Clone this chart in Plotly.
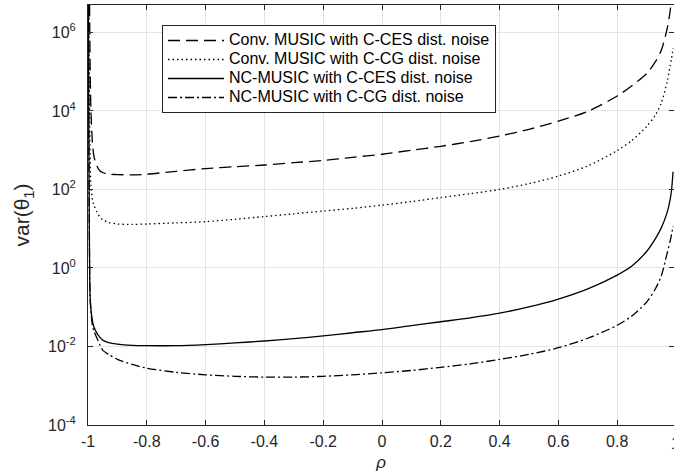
import plotly.graph_objects as go

# correlation coefficient rho (grid is denser near the endpoints)
rho = [-0.999, -0.997, -0.995, -0.993, -0.99, -0.985, -0.98, -0.97, -0.96, -0.95,
       -0.93, -0.9, -0.85, -0.8, -0.7, -0.6, -0.5, -0.4, -0.3, -0.2, -0.1, 0.0,
       0.1, 0.2, 0.3, 0.4, 0.5, 0.6, 0.7, 0.8, 0.85, 0.9, 0.93, 0.95, 0.97, 0.98,
       0.985, 0.99]

# var(theta_1) for each estimator / noise model
conv_music_ces = [1e9, 1e8, 1e7, 2.0e5, 1.0e4, 1.6e3, 7.1e2, 4.0e2, 3.0e2, 2.7e2,
                  2.45e2, 2.4e2, 2.35e2, 2.45e2, 2.9e2, 3.4e2, 3.8e2, 4.2e2, 4.8e2,
                  5.5e2, 6.6e2, 7.9e2, 1.0e3, 1.26e3, 1.66e3, 2.3e3, 3.4e3, 5.5e3,
                  9.8e3, 2.4e4, 4.4e4, 8.9e4, 1.8e5, 3.5e5, 1.26e6, 3.5e6, 7.9e6, 2.0e7]
conv_music_cg = [1e9, 3.2e7, 3.2e4, 1.0e3, 126, 56, 40, 27, 20, 17,
                 14.5, 13.2, 12.9, 13.2, 14.1, 15.1, 17.4, 20.4, 24, 28.2,
                 33, 40, 49, 62, 78, 100, 141, 219, 398, 977,
                 1.78e3, 4.0e3, 7.9e3, 1.6e4, 5.6e4, 1.4e5, 2.2e5, 4.0e5]
nc_music_ces = [1e7, 1e3, 3.2, 0.2, 0.087, 0.045, 0.032, 0.022, 0.0174, 0.0145,
                0.0126, 0.0115, 0.0107, 0.0105, 0.0105, 0.0112, 0.0123, 0.0138,
                0.0158, 0.0186, 0.0224, 0.0269, 0.0339, 0.0427, 0.0537, 0.0708,
                0.102, 0.162, 0.295, 0.66, 1.12, 2.63, 5.6, 10.5, 26, 55, 100, 282]
nc_music_cg = [1e7, 1e3, 3.2, 0.2, 0.079, 0.035, 0.025, 0.0166, 0.0112, 8.1e-3,
               6.3e-3, 4.7e-3, 3.5e-3, 2.8e-3, 2.2e-3, 1.9e-3, 1.74e-3, 1.66e-3,
               1.66e-3, 1.74e-3, 1.9e-3, 2.14e-3, 2.45e-3, 2.95e-3, 3.6e-3, 4.7e-3,
               6.3e-3, 9.3e-3, 0.0162, 0.0347, 0.060, 0.135, 0.295, 0.63, 2.4, 4.8, 7.2, 11.7]

series_names = ["Conv. MUSIC with C-CES dist. noise",
                "Conv. MUSIC with C-CG dist. noise",
                "NC-MUSIC with C-CES dist. noise",
                "NC-MUSIC with C-CG dist. noise"]
series_dash = ["12px,6px", "1.5px,3px", "solid", "9px,3px,2px,3px"]

x_ticks = [-1, -0.8, -0.6, -0.4, -0.2, 0, 0.2, 0.4, 0.6, 0.8]
x_ticktext = ["-1", "-0.8", "-0.6", "-0.4", "-0.2", "0", "0.2", "0.4", "0.6", "0.8"]
x_range = [-1, 0.9932]
y_ticks = [1e-4, 1e-2, 1e0, 1e2, 1e4, 1e6]
y_ticktext = ["10<sup>-4</sup>", "10<sup>-2</sup>", "10<sup>0</sup>",
              "10<sup>2</sup>", "10<sup>4</sup>", "10<sup>6</sup>"]

FONT = "Liberation Sans, Arial, Helvetica, sans-serif"
AXC = "#262626"
TICK_SIZE = 16

fig = go.Figure()
for name, vals, dash in zip(series_names,
                            [conv_music_ces, conv_music_cg, nc_music_ces, nc_music_cg],
                            series_dash):
    fig.add_trace(go.Scatter(
        x=rho, y=vals, mode="lines",
        # legend rows are spaced by the small legend font; the label itself is larger
        name=f'<span style="font-size:16px">{name}</span>',
        line=dict(color="black", width=1.3, dash=dash, shape="spline", smoothing=0.8),
    ))

axis_common = dict(
    showline=True, linecolor=AXC, linewidth=1, mirror="ticks",
    ticks="inside", ticklen=5, tickcolor=AXC, tickwidth=1,
    showgrid=True, gridcolor="#e3e3e3", gridwidth=1, zeroline=False,
    tickfont=dict(family=FONT, size=TICK_SIZE, color=AXC),
)

fig.update_layout(
    width=674, height=473, autosize=False,
    margin=dict(l=88, r=0, t=5, b=48),
    paper_bgcolor="white", plot_bgcolor="white",
    font=dict(family=FONT, color=AXC),
    xaxis=dict(range=x_range, tickvals=x_ticks, ticktext=x_ticktext,
               ticklabelstandoff=2,
               title=dict(text="<i>ρ</i>", font=dict(family=FONT, size=17, color=AXC),
                          standoff=6),
               **axis_common),
    yaxis=dict(type="log", range=[-4, 6.699], tickvals=y_ticks, ticktext=y_ticktext,
               ticklabelstandoff=8,
               title=dict(text="var(θ<sub>1</sub>)", font=dict(family=FONT, size=21, color=AXC),
                          standoff=12),
               **axis_common),
    legend=dict(x=0.1263, y=0.9524, xanchor="left", yanchor="top",
                bgcolor="white", bordercolor=AXC, borderwidth=1,
                font=dict(family=FONT, size=12, color="black"),
                itemwidth=56),
    showlegend=True,
)

# the "1" tick sits just past the right edge of the visible axis, so only part of it shows
fig.add_annotation(
    x=(1 - x_range[0]) / (x_range[1] - x_range[0]), y=0, xref="paper", yref="paper",
    text="1", showarrow=False, xanchor="center", yanchor="top", yshift=-8,
    font=dict(family=FONT, size=TICK_SIZE, color=AXC),
)

fig.write_html("out.html")
